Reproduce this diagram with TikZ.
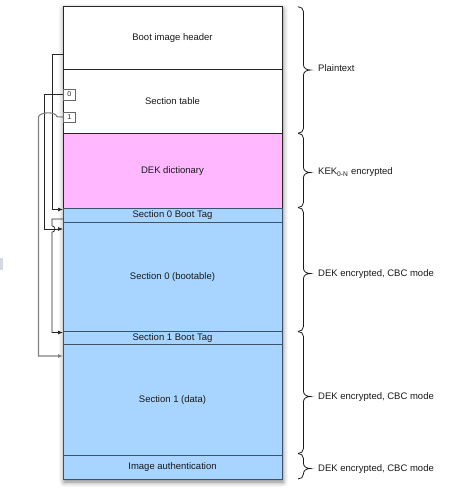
\documentclass[tikz,border=0pt]{standalone}
\usepackage{fontspec}
\setmainfont{Liberation Sans}
\usetikzlibrary{arrows.meta,shadows.blur}
\definecolor{pinkfill}{RGB}{255,184,255}
\definecolor{bluefill}{RGB}{168,213,255}
\definecolor{bluerule}{RGB}{60,82,104}
\definecolor{txt}{RGB}{25,25,25}
\definecolor{artifact}{RGB}{212,216,224}
\newcommand{\mybrace}[3]{%
  \draw[bracestyle] (298,#1) .. controls (301,#1) and (303.5,#1+2) .. (303.5,#1+5)
    -- (303.5,#2-5) .. controls (303.5,#2-2) and (306.5,#2) .. (310.5,#2)
    .. controls (306.5,#2) and (303.5,#2+2) .. (303.5,#2+5)
    -- (303.5,#3-5) .. controls (303.5,#3-2) and (301,#3) .. (298,#3);}
\begin{document}
\begin{tikzpicture}[x=1pt,y=-1pt,
  font=\fontsize{9.5}{11}\selectfont,
  row/.style={draw=black!85,line width=0.8pt,minimum width=219pt,inner sep=0pt,anchor=north,text=txt,text height=5pt,text depth=0pt},
  bluerow/.style={row,fill=bluefill,draw=bluerule},
  idx/.style={draw=black!60,fill=white,line width=0.6pt,minimum width=12pt,inner sep=0pt,anchor=north west,font=\fontsize{7}{8}\selectfont,text=txt},
  conn/.style={draw=black!85,line width=0.7pt,-{Latex[length=5pt,width=4pt]}},
  conngray/.style={conn,draw=black!50,line width=1.1pt},
  bracestyle/.style={draw=black!90,line width=0.8pt},
  lbl/.style={anchor=west,inner sep=0pt,text=txt}]
\useasboundingbox (0,0) rectangle (468,491);
\fill[artifact] (0,258) rectangle (2.7,269.5);
% frame with shadow
\node[minimum width=219pt,minimum height=473pt,inner sep=0pt,fill=white,
  blur shadow={shadow xshift=1pt,shadow yshift=-3pt,shadow blur radius=5pt,shadow opacity=50}] (frame) at (172.5,242.5) {};
% rows
\node[row,fill=white,minimum height=63.3pt] (header) at (172.5,6) {Boot image header};
\node[row,fill=white,minimum height=63.7pt] (table) at (172.5,69.3) {Section table};
\node[row,fill=pinkfill,minimum height=74.5pt] (dekdict) at (172.5,133) {DEK dictionary};
\node[bluerow,minimum height=14.5pt] (tag0) at (172.5,207.5) {Section 0 Boot Tag};
\node[bluerow,minimum height=109pt] (sec0) at (172.5,222) {Section 0 (bootable)};
\node[bluerow,minimum height=13.3pt] (tag1) at (172.5,331) {Section 1 Boot Tag};
\node[bluerow,minimum height=110.7pt] (sec1) at (172.5,344.3) {Section 1 (data)};
\node[bluerow,minimum height=24pt] (auth) at (172.5,455) {Image authentication};
% index boxes
\node[idx,minimum height=11pt] (box0) at (63,88.5) {0};
\node[idx,minimum height=10.5pt] (box1) at (63,111.5) {1};
% connector end points on the box edge
\coordinate (hdrOut) at (63,54);
\coordinate (tag0In) at (63,209.5);
\coordinate (sec0In) at (63,229);
\coordinate (tag0Out) at (63,219);
\coordinate (tag1In) at (63,332.5);
\coordinate (sec1In) at (63,356);
% connectors
\draw[conn] (hdrOut) -- (52,54) |- (tag0In);
\draw[conn] (box0.west) -| (44.5,229) -- (sec0In);
\draw[conngray] (box1.west) -- (57,116.75) .. controls (56,111.5) and (40.5,111.5) .. (38.5,116.75) -- (38.5,356) -- (sec1In);
\draw[conn] (tag0Out) -- (52,219) -- (52,225.8) .. controls (55.8,225.8) and (55.8,232.2) .. (52,232.2) -- (52,332.5) -- (tag1In);
% braces
\mybrace{6.7}{70}{133.3}
\mybrace{133.3}{172.5}{207.5}
\mybrace{207.5}{273.5}{331.5}
\mybrace{331.5}{396.5}{453.5}
\mybrace{453.5}{468.5}{479}
% labels
\node[lbl] (lplain) at (318,68.5) {Plaintext};
\node[lbl] (lkek) at (318,172.5) {KEK\textsubscript{0-N} encrypted};
\node[lbl] (ldek1) at (318,274) {DEK encrypted, CBC mode};
\node[lbl] (ldek2) at (318,397) {DEK encrypted, CBC mode};
\node[lbl] (ldek3) at (318,469) {DEK encrypted, CBC mode};
\end{tikzpicture}
\end{document}
